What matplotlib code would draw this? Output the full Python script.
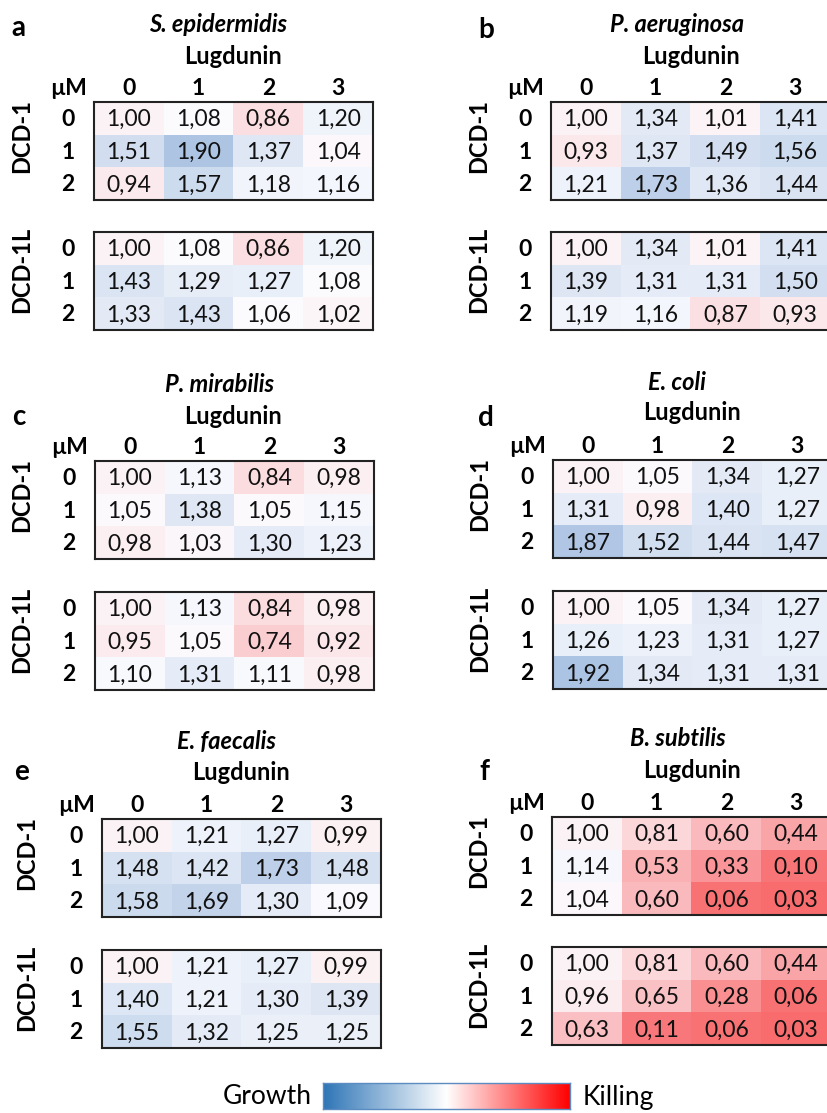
import matplotlib
matplotlib.use('Agg')
import matplotlib.pyplot as plt
import numpy as np
from matplotlib.colors import LinearSegmentedColormap, TwoSlopeNorm

plt.rcParams['font.family'] = ['Lato', 'DejaVu Sans']

# data: ratio values, rows = DCD-1 (or DCD-1L) 0/1/2 uM, cols = Lugdunin 0..3 uM
species = ['S. epidermidis', 'P. aeruginosa', 'P. mirabilis', 'E. coli', 'E. faecalis', 'B. subtilis']
letters = ['a', 'b', 'c', 'd', 'e', 'f']
lug_conc = ['0', '1', '2', '3']
dcd_conc = ['0', '1', '2']

sepi_dcd1 = [[1.00, 1.08, 0.86, 1.20], [1.51, 1.90, 1.37, 1.04], [0.94, 1.57, 1.18, 1.16]]
sepi_dcd1l = [[1.00, 1.08, 0.86, 1.20], [1.43, 1.29, 1.27, 1.08], [1.33, 1.43, 1.06, 1.02]]
paer_dcd1 = [[1.00, 1.34, 1.01, 1.41], [0.93, 1.37, 1.49, 1.56], [1.21, 1.73, 1.36, 1.44]]
paer_dcd1l = [[1.00, 1.34, 1.01, 1.41], [1.39, 1.31, 1.31, 1.50], [1.19, 1.16, 0.87, 0.93]]
pmir_dcd1 = [[1.00, 1.13, 0.84, 0.98], [1.05, 1.38, 1.05, 1.15], [0.98, 1.03, 1.30, 1.23]]
pmir_dcd1l = [[1.00, 1.13, 0.84, 0.98], [0.95, 1.05, 0.74, 0.92], [1.10, 1.31, 1.11, 0.98]]
ecol_dcd1 = [[1.00, 1.05, 1.34, 1.27], [1.31, 0.98, 1.40, 1.27], [1.87, 1.52, 1.44, 1.47]]
ecol_dcd1l = [[1.00, 1.05, 1.34, 1.27], [1.26, 1.23, 1.31, 1.27], [1.92, 1.34, 1.31, 1.31]]
efae_dcd1 = [[1.00, 1.21, 1.27, 0.99], [1.48, 1.42, 1.73, 1.48], [1.58, 1.69, 1.30, 1.09]]
efae_dcd1l = [[1.00, 1.21, 1.27, 0.99], [1.40, 1.21, 1.30, 1.39], [1.55, 1.32, 1.25, 1.25]]
bsub_dcd1 = [[1.00, 0.81, 0.60, 0.44], [1.14, 0.53, 0.33, 0.10], [1.04, 0.60, 0.06, 0.03]]
bsub_dcd1l = [[1.00, 0.81, 0.60, 0.44], [0.96, 0.65, 0.28, 0.06], [0.63, 0.11, 0.06, 0.03]]

tables = [(sepi_dcd1, sepi_dcd1l), (paer_dcd1, paer_dcd1l), (pmir_dcd1, pmir_dcd1l),
          (ecol_dcd1, ecol_dcd1l), (efae_dcd1, efae_dcd1l), (bsub_dcd1, bsub_dcd1l)]

# layout in pixels (left, top1, top2, letter xy, title xy, lugdunin xy, dcd label x)
layout = [
    (94, 102, 232, (18, 28), (218, 24), (233, 57), 22),
    (551, 102, 232, (486, 30), (677, 24), (691, 57), 479),
    (95, 461, 592, (19, 417), (220, 384), (233, 416), 22),
    (553, 460, 591, (486, 418), (677, 382), (692, 413), 480),
    (102, 819, 950, (22, 772), (227, 742), (241, 773), 27),
    (552, 817, 947, (484, 772), (678, 738), (692, 770), 479),
]

W, H = 828, 1113
TW, TH = 279, 98
FS = 16.5

fig = plt.figure(figsize=(W / 100, H / 100), dpi=100)

cmap = LinearSegmentedColormap.from_list('excel', ['#F8696B', '#FCFCFF', '#5A8AC6'])
norm = TwoSlopeNorm(vmin=0.0, vcenter=1.07, vmax=2.8)


def ftext(x, y, s, **kw):
    fig.text(x / W, 1 - y / H, s, **kw)


def draw_table(left, top, vals, first):
    ax = fig.add_axes([left / W, 1 - (top + TH) / H, TW / W, TH / H])
    arr = np.array(vals)
    ax.imshow(arr, cmap=cmap, norm=norm, aspect='auto', interpolation='nearest')
    for i in range(arr.shape[0]):
        for j in range(arr.shape[1]):
            ax.text(j, i + 0.04, f'{arr[i, j]:.2f}'.replace('.', ','), ha='center', va='center',
                    fontsize=FS, color='#111111')
        ax.text(-0.87, i + 0.04, dcd_conc[i], ha='center', va='center', fontsize=FS, fontweight='bold')
    if first:
        for j in range(arr.shape[1]):
            ax.text(j, -0.9, lug_conc[j], ha='center', va='center', fontsize=FS, fontweight='bold')
        ax.text(-0.87, -0.9, 'µM', ha='center', va='center', fontsize=FS, fontweight='bold')
    ax.set_xticks([])
    ax.set_yticks([])
    for sp in ax.spines.values():
        sp.set_linewidth(1.5)
        sp.set_color('#222222')
    return ax


for k in range(6):
    left, top1, top2, lxy, txy, gxy, dx = layout[k]
    draw_table(left, top1, tables[k][0], True)
    draw_table(left, top2, tables[k][1], False)
    ftext(lxy[0], lxy[1], letters[k], ha='center', va='center', fontsize=20, fontweight='bold')
    ftext(txy[0], txy[1], species[k], ha='center', va='center', fontsize=17,
          fontweight='bold', fontstyle='italic')
    ftext(gxy[0], gxy[1], 'Lugdunin', ha='center', va='center', fontsize=17, fontweight='bold')
    ftext(dx, top1 + 34, 'DCD-1', ha='center', va='center', rotation=90, fontsize=17, fontweight='bold')
    ftext(dx, top2 + 38, 'DCD-1L', ha='center', va='center', rotation=90, fontsize=17, fontweight='bold')

# colour legend at the bottom
cax = fig.add_axes([323 / W, 1 - 1109 / H, 247 / W, 26 / H])
grad = LinearSegmentedColormap.from_list('legend', ['#2E75B6', '#FFFFFF', '#FF0000'])
cax.imshow(np.linspace(0, 1, 256)[None, :], cmap=grad, aspect='auto')
cax.set_xticks([])
cax.set_yticks([])
for sp in cax.spines.values():
    sp.set_color('#5B8BC0')
    sp.set_linewidth(1)
ftext(312, 1097, 'Growth', ha='right', va='center', fontsize=19)
ftext(583, 1097, 'Killing', ha='left', va='center', fontsize=19)

fig.savefig('out.png', dpi=100)
